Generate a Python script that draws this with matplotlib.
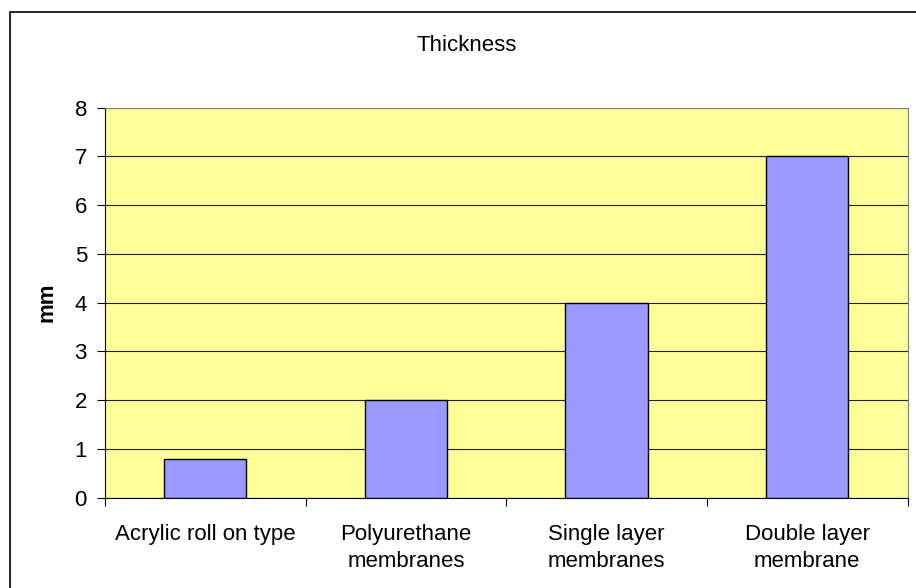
import numpy as np
import matplotlib.pyplot as plt
from matplotlib.patches import Rectangle

# data
categories = ["Acrylic roll on type", "Polyurethane\nmembranes",
              "Single layer\nmembranes", "Double layer\nmembrane"]
thickness = [0.8, 2, 4, 7]
yticks = [0, 1, 2, 3, 4, 5, 6, 7, 8]

plt.rcParams["font.family"] = ["Liberation Sans", "DejaVu Sans"]

fig = plt.figure(figsize=(9.16, 5.88), dpi=100)
W, H = 916, 588

# outer chart border (runs off the right and bottom of the picture)
fig.patches.append(Rectangle((10 / W, -0.1), 1.2, (H - 12) / H + 0.1,
                             transform=fig.transFigure, fill=False,
                             edgecolor="black", linewidth=1.2))

ax = fig.add_axes([105 / W, (H - 497.7) / H, 802.5 / W, 390.2 / H])
ax.set_facecolor("#FFFF99")

x = np.arange(len(categories))
ax.bar(x, thickness, width=0.41, color="#9999FF", edgecolor="black",
       linewidth=1.0, zorder=3)

ax.set_xlim(-0.5, len(categories) - 0.5)
ax.set_ylim(0, 8)
ax.set_yticks(yticks)
ax.yaxis.grid(True, color="#222222", linewidth=0.8, zorder=1)
ax.set_axisbelow(True)

ax.set_xticks(x)
ax.set_xticklabels(categories, linespacing=1.38)
ax.set_xticks(np.arange(len(categories) + 1) - 0.5, minor=True)
ax.tick_params(axis="x", which="major", length=0, pad=19, labelsize=16)
ax.tick_params(axis="x", which="minor", length=6, width=0.8, direction="out")
ax.tick_params(axis="y", length=6, width=0.8, pad=7, labelsize=16)

ax.spines["top"].set_color("#808080")
ax.spines["right"].set_color("#808080")
ax.spines["left"].set_color("black")
ax.spines["bottom"].set_color("black")

fig.text(467 / W, 1 - 51 / H, "Thickness", ha="center", va="baseline",
         fontsize=16)
fig.text(47 / W, 1 - 302 / H, "mm", ha="center", va="center",
         rotation=90, fontsize=16, fontweight="bold")

plt.savefig("out.png", dpi=100)
